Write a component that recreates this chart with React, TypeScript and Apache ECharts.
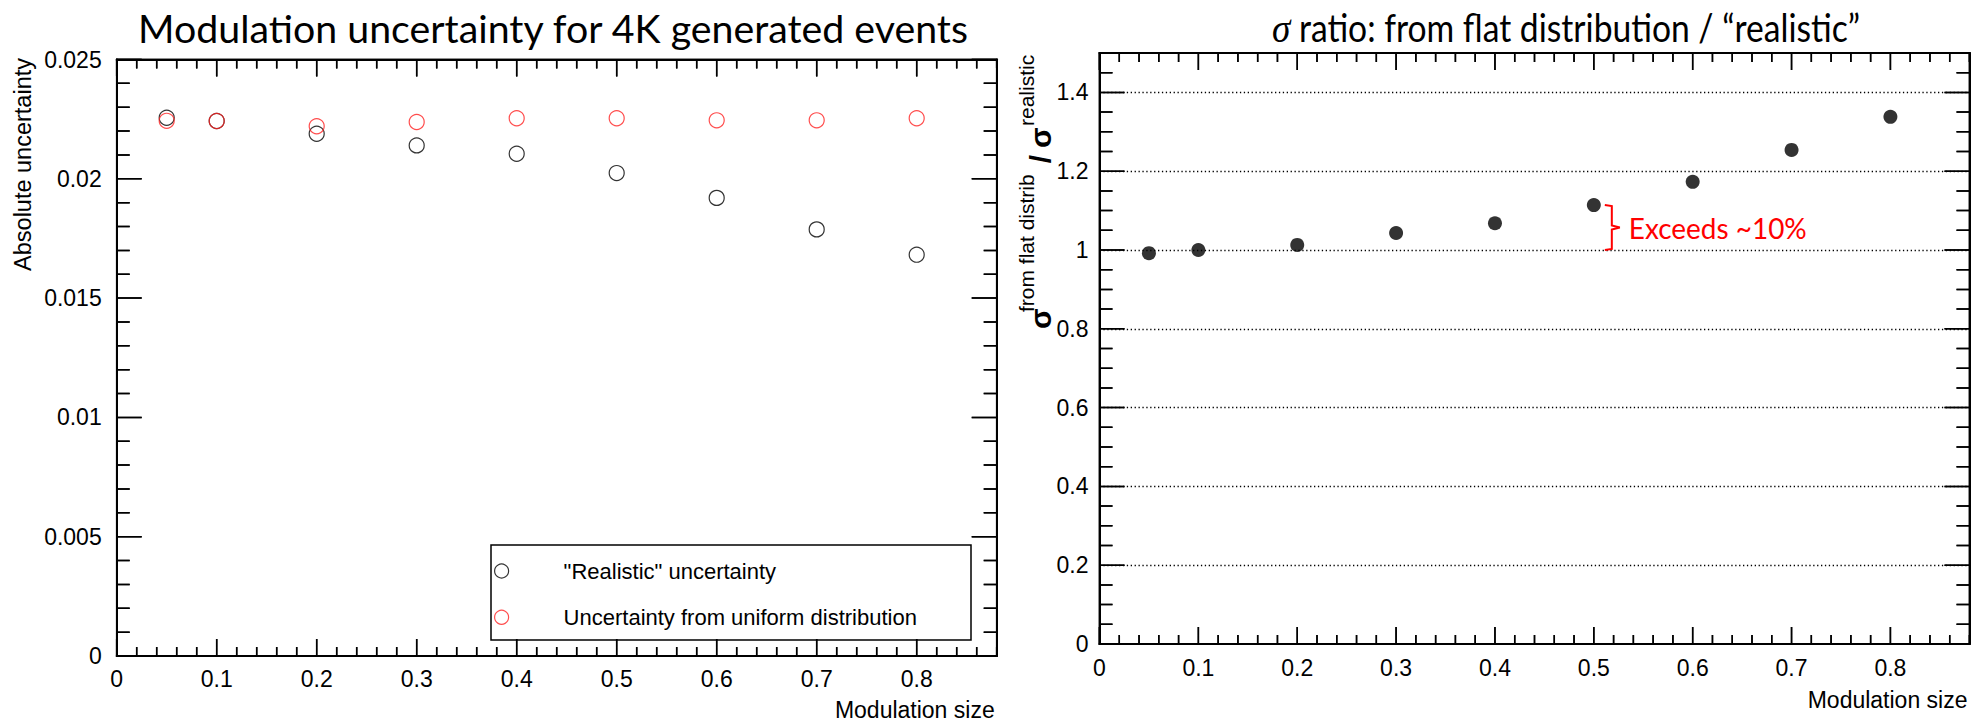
import React, { useEffect, useRef } from 'react';
import * as echarts from 'echarts';

// ---------- data ----------
const modulation = [0.05, 0.1, 0.2, 0.3, 0.4, 0.5, 0.6, 0.7, 0.8];
const realisticUnc = [0.02256, 0.02242, 0.02189, 0.0214, 0.02105, 0.02024, 0.0192, 0.01788, 0.01682];
const uniformUnc = [0.02243, 0.02242, 0.0222, 0.02238, 0.02254, 0.02254, 0.02245, 0.02245, 0.02254];
const sigmaRatio = [0.992, 1.0, 1.013, 1.043, 1.068, 1.114, 1.173, 1.254, 1.338];

const REAL_NAME = '"Realistic" uncertainty';
const UNIF_NAME = 'Uncertainty from uniform distribution';
const LEFT_TITLE = 'Modulation uncertainty for 4K generated events';
const RIGHT_TITLE_REST = ' ratio: from flat distribution / \u201Crealistic\u201D';
const LEFT_YNAME = 'Absolute uncertainty';
const XNAME = 'Modulation size';
const ANNOT = 'Exceeds ~10%';

// axis tick steps (major / minor) for each panel
const X_MAX = 0.88, X_MAJOR = 0.1, X_MINOR = 0.02;
const YL_MAX = 0.025, YL_MAJOR = 0.005, YL_MINOR = 0.001;
const YR_MAX = 1.5, YR_MAJOR = 0.2, YR_MINOR = 0.05;

// ---------- layout / style ----------
const FONT = '"Liberation Sans", Arial, Helvetica, sans-serif';
const TFONT = 'Lato, "Open Sans", sans-serif';
const L = { left: 116.7, top: 59.5, width: 880, height: 596.5 };
const R = { left: 1099.5, top: 53, width: 870, height: 591 };

function measure(text: string, font: string): number {
  const c = document.createElement('canvas').getContext('2d')!;
  c.font = font;
  return c.measureText(text).width;
}

const isMult = (v: number, step: number) => Math.abs(v / step - Math.round(v / step)) < 1e-6;
const steps = (max: number, step: number) => {
  const out: number[] = [];
  for (let k = 0; k * step <= max + 1e-9; k++) out.push(+(k * step).toFixed(6));
  return out;
};

const LINE = { show: true, onZero: false, lineStyle: { color: '#000', width: 2 } };
const NOTICK = { show: false };

function xAxesFor(grid: number, labelMargin: number) {
  const base: any = {
    type: 'value', gridIndex: grid, min: 0, max: X_MAX, interval: X_MAJOR,
    axisLine: LINE, axisTick: NOTICK, splitLine: { show: false }, axisLabel: { show: false },
  };
  return [
    {
      ...base, position: 'bottom',
      axisLabel: {
        show: true, margin: labelMargin, fontSize: 23, fontFamily: FONT, color: '#000',
        formatter: (v: number) => (isMult(v, X_MAJOR) ? String(+v.toFixed(1)) : ''),
      },
    },
    { ...base, position: 'top' },
  ];
}

function yAxesFor(grid: number, max: number, major: number, digits: number, margin: number, dotted: boolean) {
  const base: any = {
    type: 'value', gridIndex: grid, min: 0, max, interval: major,
    axisLine: LINE, axisTick: NOTICK, splitLine: { show: false }, axisLabel: { show: false },
  };
  return [
    {
      ...base, position: 'left',
      axisLabel: {
        show: true, margin, fontSize: 23, fontFamily: FONT, color: '#000',
        formatter: (v: number) => (isMult(v, major) ? String(+v.toFixed(digits)) : ''),
      },
      splitLine: dotted
        ? { show: true, showMinLine: false, showMaxLine: false, lineStyle: { color: '#000', width: 1.3, type: [1.3, 2.6] } }
        : { show: false },
    },
    { ...base, position: 'right' },
  ];
}

// zig-zag polylines that run along each frame side and step into the plot at every tick
function tickPolylines(coord: (p: number[]) => number[], yMax: number, yMajor: number, yMinor: number): number[][][] {
  const xs = steps(X_MAX, X_MINOR);
  const ys = steps(yMax, yMinor);
  const lb = coord([0, 0]);
  const rt = coord([X_MAX, yMax]);
  const left = lb[0], bottom = lb[1], right = rt[0], top = rt[1];
  const bot: number[][] = [[left, bottom]];
  const tp: number[][] = [[left, top]];
  xs.forEach((v) => {
    const px = coord([v, 0])[0];
    const len = isMult(v, X_MAJOR) ? 17 : 9;
    bot.push([px, bottom], [px, bottom - len], [px, bottom]);
    tp.push([px, top], [px, top + len], [px, top]);
  });
  bot.push([right, bottom]);
  tp.push([right, top]);
  const lf: number[][] = [[left, bottom]];
  const rg: number[][] = [[right, bottom]];
  ys.forEach((v) => {
    const py = coord([0, v])[1];
    const len = isMult(v, yMajor) ? 25 : 13;
    lf.push([left, py], [left + len, py], [left, py]);
    rg.push([right, py], [right - len, py], [right, py]);
  });
  lf.push([left, top]);
  rg.push([right, top]);
  return [bot, tp, lf, rg];
}

function tickSeries(xIdx: number, yIdx: number, yMax: number, yMajor: number, yMinor: number): any {
  return {
    type: 'custom', name: 'ticks' + xIdx, xAxisIndex: xIdx, yAxisIndex: yIdx,
    silent: true, clip: false, z: 10,
    data: [[0, 0]],
    renderItem: (_params: any, api: any) => {
      const lines = tickPolylines((p) => api.coord(p) as number[], yMax, yMajor, yMinor);
      return {
        type: 'group',
        children: lines.map((pts) => ({
          type: 'polyline',
          shape: { points: pts },
          style: { stroke: '#000', lineWidth: 1.5, fill: 'none' },
        })),
      };
    },
  };
}

function buildOption(): any {
  const hollow = (c: string) => ({ color: 'rgba(0,0,0,0)', borderColor: c, borderWidth: 1.2 });
  return {
    animation: false,
    backgroundColor: '#fff',
    grid: [
      { ...L, outerBoundsMode: 'none', containLabel: false },
      { ...R, outerBoundsMode: 'none', containLabel: false },
    ],
    xAxis: [...xAxesFor(0, 11), ...xAxesFor(1, 12)],
    yAxis: [
      ...yAxesFor(0, YL_MAX, YL_MAJOR, 3, 15, false),
      ...yAxesFor(1, YR_MAX, YR_MAJOR, 1, 11, true),
    ],
    legend: {
      data: [
        { name: REAL_NAME, icon: 'circle', itemStyle: hollow('#000') },
        { name: UNIF_NAME, icon: 'circle', itemStyle: hollow('#ff2020') },
      ],
      orient: 'vertical', left: 489, top: 554, padding: 5,
      itemWidth: 114, itemHeight: 14, itemGap: 22.3,
      selectedMode: false,
      textStyle: { fontSize: 22, fontFamily: FONT, color: '#000', lineHeight: 24 },
    },
    series: [
      {
        type: 'scatter', name: REAL_NAME, xAxisIndex: 0, yAxisIndex: 0,
        data: modulation.map((x, i) => [x, realisticUnc[i]]),
        symbol: 'circle', symbolSize: 15, itemStyle: hollow('#000'), z: 2,
      },
      {
        type: 'scatter', name: UNIF_NAME, xAxisIndex: 0, yAxisIndex: 0,
        data: modulation.map((x, i) => [x, uniformUnc[i]]),
        symbol: 'circle', symbolSize: 15, itemStyle: hollow('#ff2020'), z: 3,
      },
      {
        type: 'scatter', name: 'ratio', xAxisIndex: 2, yAxisIndex: 2,
        data: modulation.map((x, i) => [x, sigmaRatio[i]]),
        symbol: 'circle', symbolSize: 14, itemStyle: { color: '#000' }, z: 3,
      },
      tickSeries(0, 0, YL_MAX, YL_MAJOR, YL_MINOR),
      tickSeries(2, 2, YR_MAX, YR_MAJOR, YR_MINOR),
    ],
  };
}

export default function App() {
  const ref = useRef<HTMLDivElement>(null);
  useEffect(() => {
    const el = ref.current!;
    const chart = echarts.init(el, null, { renderer: 'svg' });
    chart.setOption(buildOption());

    // titles fitted to their widths in the reference
    const ts = 38;
    const leftW = measure(LEFT_TITLE, `${ts}px Lato`);
    const leftScale = 832 / leftW;
    const sigSize = ts + 4;
    const sigW = measure('\u03C3', `italic ${sigSize}px "Liberation Serif"`);
    const restW = measure(RIGHT_TITLE_REST, `${ts}px Lato`);
    const rStart = 1272, rEnd = 1860;
    const rightScale = (rEnd - rStart) / (sigW + restW);

    const annotFont = 28;
    const annotScale = 178 / measure(ANNOT, `${annotFont}px Lato`);

    const p0 = chart.convertToPixel({ seriesIndex: 2 } as any, [modulation[5], sigmaRatio[5]]) as number[];
    const p0x = p0[0], p0y = p0[1];
    const p1 = chart.convertToPixel({ seriesIndex: 2 } as any, [modulation[5], 1.0]) as number[];
    const p1y = p1[1];
    const bx0 = p0x + 11, bx1 = p0x + 18, bx2 = p0x + 26;
    const yt = p0y, yb = p1y, ym = (yt + yb) / 2;

    // same zig-zag tick lines, also as graphic polylines (coincide with the custom-series ones)
    let tickEls: any[] = [];
    try {
      const mk = (si: number, yMax: number, yMajor: number, yMinor: number) =>
        tickPolylines((p) => {
          const q = chart.convertToPixel({ seriesIndex: si } as any, p) as number[];
          return [Number(q[0]), Number(q[1])];
        }, yMax, yMajor, yMinor).map((pts) => ({
          type: 'polyline', silent: true,
          shape: { points: pts },
          style: { stroke: '#000', lineWidth: 1.5, fill: 'none' },
        }));
      tickEls = [...mk(0, YL_MAX, YL_MAJOR, YL_MINOR), ...mk(2, YR_MAX, YR_MAJOR, YR_MINOR)];
    } catch (e) {
      tickEls = [];
    }

    const rot = Math.PI / 2;
    const axisTxt = (text: string, x: number, y: number, size: number, extra: any = {}) => ({
      type: 'text', x, y, rotation: rot, silent: true,
      style: { text, fontSize: size, fontFamily: FONT, fill: '#000', align: 'left', verticalAlign: 'middle', ...extra },
    });

    chart.setOption({
      graphic: [
        // left title
        {
          type: 'text', x: 553, y: 28, scaleX: leftScale, silent: true,
          style: { text: LEFT_TITLE, fontSize: ts, fontFamily: TFONT, fill: '#000', align: 'center', verticalAlign: 'middle' },
        },
        // right title (sigma + rest)
        {
          type: 'text', x: rStart, y: 28, scaleX: rightScale, silent: true,
          style: { text: '\u03C3', fontSize: sigSize, fontFamily: '"Liberation Serif", serif', fontStyle: 'italic', fill: '#000', align: 'left', verticalAlign: 'middle' },
        },
        {
          type: 'text', x: rStart + sigW * rightScale, y: 28, scaleX: rightScale, silent: true,
          style: { text: RIGHT_TITLE_REST, fontSize: ts, fontFamily: TFONT, fill: '#000', align: 'left', verticalAlign: 'middle' },
        },
        // legend frame
        {
          type: 'rect', silent: true,
          shape: { x: 491, y: 545, width: 480, height: 95 },
          style: { fill: 'none', stroke: '#000', lineWidth: 1.5 },
        },
        // left y axis title
        {
          type: 'text', x: 23, y: 58, rotation: rot, silent: true,
          style: { text: LEFT_YNAME, fontSize: 23.5, fontFamily: FONT, fill: '#000', align: 'right', verticalAlign: 'middle' },
        },
        // x axis titles
        {
          type: 'text', x: L.left + L.width - 2, y: 710, silent: true,
          style: { text: XNAME, fontSize: 23, fontFamily: FONT, fill: '#000', align: 'right', verticalAlign: 'middle' },
        },
        {
          type: 'text', x: R.left + R.width - 2, y: 700, silent: true,
          style: { text: XNAME, fontSize: 23, fontFamily: FONT, fill: '#000', align: 'right', verticalAlign: 'middle' },
        },
        // right y axis title:  sigma^{from flat distrib} / sigma^{realistic}
        axisTxt('\u03C3', 1040, 329, 30, { fontWeight: 'bold' }),
        axisTxt('from flat distrib', 1026, 312, 21),
        axisTxt('/', 1040, 159, 30, { fontWeight: 'bold', align: 'center' }),
        axisTxt('\u03C3', 1040, 148, 30, { fontWeight: 'bold' }),
        axisTxt('realistic', 1026, 126, 21),
        // annotation bracket
        {
          type: 'polyline', silent: true,
          shape: {
            points: [[bx0, yt], [bx1, yt + 1], [bx1, ym - 2], [bx2, ym], [bx1, ym + 2], [bx1, yb - 1], [bx0, yb]],
          },
          style: { stroke: '#ff0000', lineWidth: 2, fill: 'none' },
        },
        {
          type: 'text', x: bx2 + 9, y: ym, scaleX: annotScale, silent: true,
          style: { text: ANNOT, fontSize: annotFont, fontFamily: TFONT, fill: '#ff0000', align: 'left', verticalAlign: 'middle' },
        },
        ...tickEls,
      ],
    });
    return () => chart.dispose();
  }, []);
  return (
    <div
      ref={ref}
      style={{ position: 'fixed', left: 0, top: 0, width: 1981, height: 724, background: '#fff' }}
    />
  );
}
